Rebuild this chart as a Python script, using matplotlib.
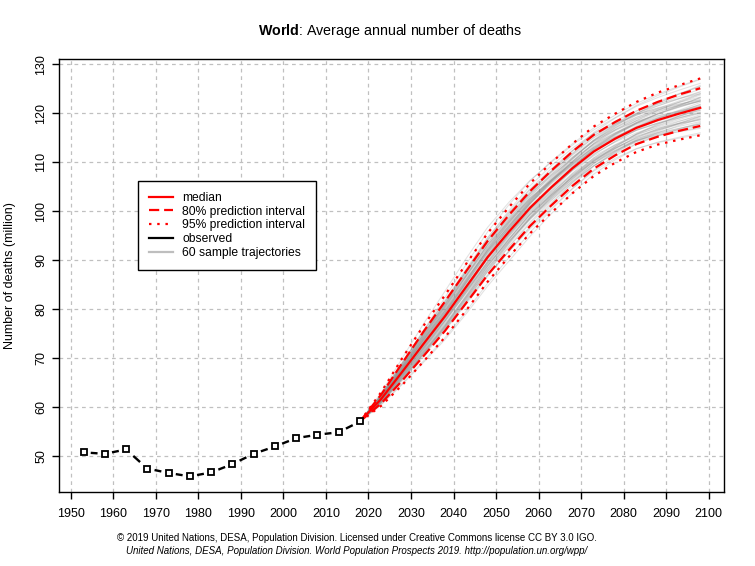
import numpy as np
import matplotlib
matplotlib.use("Agg")
from matplotlib import pyplot as plt
from matplotlib.lines import Line2D

plt.rcParams['font.family'] = ['Liberation Sans', 'DejaVu Sans']
plt.rcParams['mathtext.fontset'] = 'custom'
plt.rcParams['mathtext.rm'] = 'Liberation Sans'
plt.rcParams['mathtext.bf'] = 'Liberation Sans:bold'

# observed, 5-year period midpoints
obs_years = [1953, 1958, 1963, 1968, 1973, 1978, 1983, 1988, 1993, 1998, 2003, 2008, 2013, 2018]
obs_deaths = [50.8, 50.5, 51.4, 47.5, 46.6, 45.9, 46.7, 48.4, 50.5, 52.0, 53.7, 54.4, 54.9, 57.1]

# projections
proj_years = [2018, 2023, 2028, 2033, 2038, 2043, 2048, 2053, 2058, 2063, 2068, 2073, 2078, 2083, 2088, 2093, 2098]
median = [57.1, 61.7, 67.3, 73.0, 78.6, 84.6, 90.6, 95.8, 100.7, 104.9, 108.8, 112.2, 114.8, 117.0, 118.6, 119.9, 121.1]
upper80 = [57.1, 62.6, 69.1, 75.5, 81.6, 87.8, 93.9, 99.2, 104.1, 108.3, 112.2, 115.6, 118.2, 120.5, 122.3, 123.8, 125.1]
lower80 = [57.1, 60.8, 65.5, 70.5, 75.6, 81.3, 87.0, 92.1, 97.0, 101.2, 105.2, 108.7, 111.4, 113.7, 115.2, 116.4, 117.4]
upper95 = [57.1, 63.1, 70.1, 76.7, 82.9, 89.3, 95.5, 100.8, 105.7, 109.9, 113.8, 117.3, 119.9, 122.3, 124.2, 125.7, 127.1]
lower95 = [57.1, 60.3, 64.6, 69.4, 74.3, 79.8, 85.6, 90.7, 95.5, 99.7, 103.7, 107.2, 109.9, 112.1, 113.6, 114.6, 115.5]

# sample trajectories: deviation from the median, 2023..2098 (2018 = 0)
traj_dev = [
    [0.8, 1.7, 2.4, 3.0, 3.4, 3.6, 3.5, 3.3, 3.1, 3.0, 2.8, 2.7, 2.9, 3.2, 3.5, 3.8],
    [-0.6, -1.3, -1.9, -2.4, -2.8, -3.0, -3.1, -3.2, -3.1, -3.0, -2.9, -2.8, -2.6, -2.5, -2.6, -2.8],
    [0.2, 0.5, 0.9, 1.2, 1.5, 1.6, 1.7, 1.5, 1.2, 0.9, 0.8, 0.9, 1.1, 1.3, 1.4, 1.5],
    [-0.2, -0.4, -0.5, -0.3, 0.0, 0.4, 0.8, 1.1, 1.3, 1.5, 1.6, 1.6, 1.5, 1.6, 1.8, 2.0],
    [1.3, 2.8, 4.1, 5.1, 5.8, 6.1, 6.0, 5.6, 5.1, 4.7, 4.4, 4.3, 4.6, 5.0, 5.4, 5.8],
    [-1.2, -2.6, -3.8, -4.8, -5.5, -5.9, -6.0, -5.8, -5.4, -5.0, -4.6, -4.3, -4.3, -4.5, -4.8, -5.1],
    [0.4, 0.9, 1.4, 1.9, 2.3, 2.5, 2.4, 2.0, 1.5, 1.0, 0.6, 0.3, 0.2, 0.3, 0.5, 0.7],
    [-0.4, -0.8, -1.1, -1.3, -1.2, -0.9, -0.5, -0.2, 0.1, 0.3, 0.4, 0.6, 0.9, 1.3, 1.7, 2.1],
    [0.1, 0.2, 0.1, -0.2, -0.6, -1.0, -1.3, -1.5, -1.6, -1.8, -2.0, -2.3, -2.6, -2.8, -3.0, -3.3],
    [0.6, 1.1, 1.4, 1.5, 1.4, 1.2, 1.0, 0.9, 1.0, 1.3, 1.7, 2.2, 2.6, 2.9, 3.1, 3.3],
    [-0.7, -1.5, -2.0, -2.2, -2.1, -1.8, -1.5, -1.4, -1.5, -1.7, -1.9, -2.0, -2.0, -1.8, -1.6, -1.4],
    [0.3, 0.8, 1.5, 2.3, 3.0, 3.5, 3.8, 3.9, 3.8, 3.6, 3.3, 3.0, 2.6, 2.2, 1.9, 1.7],
    [-0.3, -0.9, -1.6, -2.4, -3.1, -3.6, -3.9, -4.0, -3.8, -3.4, -3.0, -2.6, -2.3, -2.1, -2.0, -2.0],
    [0.5, 1.0, 1.2, 1.1, 0.8, 0.4, 0.0, -0.4, -0.8, -1.1, -1.3, -1.4, -1.3, -1.1, -0.9, -0.8],
    [-0.5, -1.0, -1.2, -1.0, -0.6, -0.1, 0.4, 0.8, 1.1, 1.2, 1.2, 1.0, 0.7, 0.4, 0.2, 0.1],
    [0.9, 1.9, 2.6, 3.0, 3.1, 3.0, 2.7, 2.4, 2.2, 2.1, 2.2, 2.5, 2.9, 3.4, 4.0, 4.6],
    [-0.9, -1.8, -2.5, -2.9, -3.0, -2.8, -2.4, -2.0, -1.7, -1.6, -1.7, -2.0, -2.5, -3.1, -3.7, -4.2],
    [0.0, 0.1, 0.3, 0.6, 1.0, 1.5, 2.0, 2.5, 2.9, 3.1, 3.2, 3.1, 2.8, 2.4, 2.0, 1.6],
    [0.0, -0.2, -0.5, -0.9, -1.3, -1.7, -2.0, -2.2, -2.3, -2.2, -2.0, -1.7, -1.3, -0.9, -0.5, -0.2],
    [0.3, 0.6, 0.8, 0.9, 0.9, 0.8, 0.6, 0.4, 0.3, 0.3, 0.5, 0.8, 1.1, 1.3, 1.4, 1.4],
    [-0.2, -0.5, -0.8, -1.0, -1.0, -0.8, -0.5, -0.3, -0.3, -0.5, -0.9, -1.3, -1.7, -2.0, -2.2, -2.4],
    [0.7, 1.5, 2.1, 2.5, 2.6, 2.4, 2.0, 1.6, 1.4, 1.4, 1.6, 1.8, 1.9, 1.8, 1.6, 1.3],
    [-0.8, -1.6, -2.2, -2.5, -2.5, -2.3, -2.1, -2.1, -2.3, -2.6, -2.9, -3.1, -3.2, -3.2, -3.1, -3.0],
    [0.2, 0.6, 1.1, 1.7, 2.2, 2.6, 2.8, 2.8, 2.6, 2.3, 2.0, 1.8, 1.8, 2.0, 2.3, 2.6],
    [-0.3, -0.6, -0.7, -0.6, -0.4, -0.3, -0.4, -0.7, -1.1, -1.4, -1.6, -1.6, -1.5, -1.4, -1.5, -1.7],
    [0.5, 1.2, 1.9, 2.6, 3.3, 3.9, 4.3, 4.5, 4.4, 4.1, 3.7, 3.3, 3.0, 2.9, 3.0, 3.2],
    [-0.6, -1.3, -2.1, -2.9, -3.5, -3.9, -4.0, -3.8, -3.4, -2.9, -2.4, -2.0, -1.8, -1.8, -2.0, -2.3],
    [0.1, 0.4, 0.9, 1.3, 1.5, 1.4, 1.1, 0.8, 0.7, 0.8, 1.0, 1.1, 1.0, 0.8, 0.6, 0.5],
    [-0.1, -0.3, -0.4, -0.3, 0.0, 0.4, 0.9, 1.4, 1.8, 2.1, 2.3, 2.6, 3.0, 3.5, 4.0, 4.4],
    [0.4, 0.7, 0.8, 0.7, 0.4, 0.0, -0.5, -1.0, -1.5, -1.9, -2.2, -2.5, -2.8, -3.2, -3.6, -4.0],
    [-0.4, -0.9, -1.5, -2.1, -2.6, -2.9, -3.0, -2.9, -2.7, -2.5, -2.4, -2.4, -2.6, -2.9, -3.3, -3.7],
    [0.6, 1.3, 1.9, 2.4, 2.7, 2.9, 3.0, 3.1, 3.3, 3.6, 3.9, 4.2, 4.4, 4.6, 4.8, 5.0],
    [0.0, 0.0, -0.2, -0.5, -0.8, -1.0, -1.0, -0.8, -0.5, -0.2, 0.1, 0.3, 0.4, 0.4, 0.3, 0.2],
    [-0.5, -1.1, -1.6, -1.9, -2.0, -1.9, -1.6, -1.2, -0.8, -0.4, -0.1, 0.1, 0.2, 0.2, 0.2, 0.3],
    [0.2, 0.3, 0.3, 0.2, 0.2, 0.3, 0.6, 1.0, 1.5, 1.9, 2.2, 2.3, 2.2, 2.0, 1.7, 1.4],
    [0.8, 1.6, 2.1, 2.3, 2.2, 1.9, 1.5, 1.1, 0.8, 0.5, 0.3, 0.2, 0.2, 0.4, 0.7, 1.1],
    [-0.8, -1.5, -1.9, -2.0, -1.7, -1.3, -0.8, -0.4, -0.2, -0.2, -0.4, -0.7, -1.0, -1.2, -1.2, -1.1],
    [0.3, 0.7, 1.2, 1.6, 1.9, 2.0, 1.9, 1.7, 1.4, 1.1, 0.9, 0.8, 0.9, 1.2, 1.6, 2.1],
    [-0.2, -0.6, -1.2, -1.8, -2.3, -2.6, -2.6, -2.4, -2.0, -1.6, -1.3, -1.2, -1.3, -1.6, -2.0, -2.5],
    [0.5, 1.1, 1.6, 2.0, 2.2, 2.2, 2.1, 1.9, 1.6, 1.2, 0.8, 0.4, 0.1, -0.2, -0.4, -0.5],
    [-0.1, -0.1, 0.1, 0.4, 0.8, 1.1, 1.3, 1.3, 1.1, 0.8, 0.4, 0.0, -0.4, -0.7, -0.9, -1.0],
    [0.1, 0.1, -0.1, -0.4, -0.9, -1.4, -1.9, -2.3, -2.6, -2.8, -2.9, -2.9, -2.8, -2.6, -2.4, -2.2],
    [0.9, 1.8, 2.6, 3.2, 3.7, 4.0, 4.0, 3.7, 3.2, 2.7, 2.3, 2.1, 2.1, 2.3, 2.6, 2.9],
    [-1.1, -2.4, -3.5, -4.4, -5.0, -5.3, -5.3, -5.0, -4.6, -4.2, -4.0, -4.0, -4.2, -4.6, -5.0, -5.4],
    [0.4, 0.8, 1.0, 1.1, 1.2, 1.4, 1.7, 2.1, 2.5, 2.8, 2.9, 2.9, 2.7, 2.5, 2.3, 2.2],
    [-0.4, -0.7, -0.9, -1.0, -1.1, -1.3, -1.6, -1.9, -2.1, -2.1, -1.9, -1.6, -1.2, -0.8, -0.5, -0.3],
    [0.2, 0.4, 0.5, 0.5, 0.3, 0.1, -0.1, -0.2, -0.1, 0.2, 0.6, 1.0, 1.5, 2.0, 2.4, 2.8],
    [-0.3, -0.6, -0.8, -0.8, -0.6, -0.2, 0.3, 0.8, 1.2, 1.4, 1.4, 1.2, 0.9, 0.6, 0.4, 0.3],
    [0.6, 1.3, 2.0, 2.7, 3.2, 3.4, 3.3, 2.9, 2.4, 1.9, 1.5, 1.2, 1.1, 1.2, 1.3, 1.4],
    [-0.6, -1.2, -1.7, -2.1, -2.3, -2.4, -2.3, -2.1, -1.9, -1.8, -1.8, -1.9, -2.0, -2.0, -1.9, -1.8],
    [0.0, 0.3, 0.7, 1.0, 1.1, 1.0, 0.7, 0.3, -0.1, -0.4, -0.6, -0.6, -0.4, -0.1, 0.3, 0.7],
    [-0.1, -0.4, -0.9, -1.5, -2.0, -2.2, -2.1, -1.8, -1.4, -1.0, -0.7, -0.5, -0.5, -0.6, -0.8, -1.0],
    [0.7, 1.4, 1.8, 1.9, 1.7, 1.4, 1.2, 1.2, 1.5, 1.9, 2.4, 2.9, 3.4, 3.8, 4.1, 4.3],
    [-0.7, -1.4, -2.0, -2.6, -3.2, -3.7, -4.1, -4.3, -4.3, -4.1, -3.8, -3.5, -3.3, -3.2, -3.2, -3.3],
    [0.3, 0.5, 0.6, 0.6, 0.7, 0.9, 1.2, 1.6, 2.0, 2.2, 2.1, 1.8, 1.4, 0.9, 0.5, 0.2],
    [0.1, 0.2, 0.4, 0.7, 1.2, 1.8, 2.4, 2.9, 3.3, 3.5, 3.6, 3.6, 3.5, 3.3, 3.1, 2.9],
    [-0.5, -1.0, -1.4, -1.7, -1.8, -1.7, -1.5, -1.3, -1.2, -1.3, -1.5, -1.8, -2.2, -2.6, -3.0, -3.3],
    [0.4, 1.0, 1.6, 2.1, 2.4, 2.5, 2.3, 1.9, 1.3, 0.7, 0.2, -0.2, -0.5, -0.6, -0.6, -0.5],
    [-0.2, -0.3, -0.3, -0.2, -0.2, -0.4, -0.8, -1.3, -1.8, -2.2, -2.5, -2.6, -2.5, -2.3, -2.0, -1.7],
    [0.8, 1.8, 2.8, 3.8, 4.6, 5.2, 5.5, 5.5, 5.3, 5.0, 4.8, 4.8, 5.0, 5.3, 5.6, 5.9],
]

fig = plt.figure(figsize=(7.55, 5.66), dpi=100)
ax = fig.add_axes([0.0785, 0.1302, 0.8808, 0.765])

med = np.array(median)
for dev in traj_dev:
    ax.plot(proj_years, med + np.array([0.0] + dev), color='#8c8c8c', alpha=0.25, lw=0.75, zorder=2)

red = '#ff0000'
ax.plot(proj_years, median, color=red, lw=1.6, zorder=4)
for s in (upper80, lower80):
    ax.plot(proj_years, s, color=red, lw=1.6, dashes=(4.6, 2.2), zorder=4)
for s in (upper95, lower95):
    ax.plot(proj_years, s, color=red, lw=1.6, dashes=(1.1, 2.6), zorder=4)

# observed: dashed line segments between hollow squares (type "b")
ox = np.array(obs_years, float)
oy = np.array(obs_deaths)
for i in range(len(ox) - 1):
    xs = [ox[i] + 0.34 * (ox[i + 1] - ox[i]), ox[i] + 0.66 * (ox[i + 1] - ox[i])]
    ys = [oy[i] + 0.34 * (oy[i + 1] - oy[i]), oy[i] + 0.66 * (oy[i + 1] - oy[i])]
    ax.plot(xs, ys, color='black', lw=1.7, solid_capstyle='butt', zorder=5)
ax.plot(ox, oy, ls='none', marker='s', ms=4.0, mfc='white', mec='black', mew=1.3, zorder=6)

ax.set_xlim(1947.3, 2103.66)
ax.set_ylim(42.65, 131.0)
ax.set_xticks(range(1950, 2101, 10))
ax.set_yticks(range(50, 131, 10))
ax.tick_params(axis='both', labelsize=9, length=5, width=1, color='black', labelcolor='black')
ax.tick_params(axis='x', pad=6)
for lab in ax.get_yticklabels():
    lab.set_rotation(90)
    lab.set_va('center')
ax.grid(True, color='#c0c0c0', lw=0.9, ls=(0, (3, 3)))
ax.set_axisbelow(True)
for sp in ax.spines.values():
    sp.set_color('black')
    sp.set_linewidth(1)

fig.text(10 / 755, 0.5 * (0.1302 + 0.8952), 'Number of deaths (million)', rotation=90,
         ha='center', va='center', fontsize=9)

fig.text(0.517, 0.945, r'$\bf{World}$: Average annual number of deaths', ha='center', va='center', fontsize=10.3)

fig.text(357 / 755, 0.049, '\u00a9 2019 United Nations, DESA, Population Division. Licensed under Creative Commons license CC BY 3.0 IGO.',
         ha='center', va='center', fontsize=7.05)
fig.text(357 / 755, 0.026, 'United Nations, DESA, Population Division. World Population Prospects 2019. http://population.un.org/wpp/',
         ha='center', va='center', fontsize=7.05, style='italic')

handles = [
    Line2D([], [], color=red, lw=1.6),
    Line2D([], [], color=red, lw=1.6, dashes=(4.6, 2.2)),
    Line2D([], [], color=red, lw=1.6, dashes=(1.1, 2.6)),
    Line2D([], [], color='black', lw=1.6),
    Line2D([], [], color='#bebebe', lw=1.6),
]
labels = ['median', '80% prediction interval', '95% prediction interval', 'observed', '60 sample trajectories']
leg = ax.legend(handles, labels, loc='upper left', bbox_to_anchor=(0.118, 0.719), fontsize=8.7,
                frameon=True, fancybox=False, framealpha=1, edgecolor='black', handlelength=2.0,
                labelspacing=0.15, handletextpad=0.8, borderpad=0.9, borderaxespad=0)
leg.get_frame().set_linewidth(1)

fig.savefig('out.png', dpi=100)
